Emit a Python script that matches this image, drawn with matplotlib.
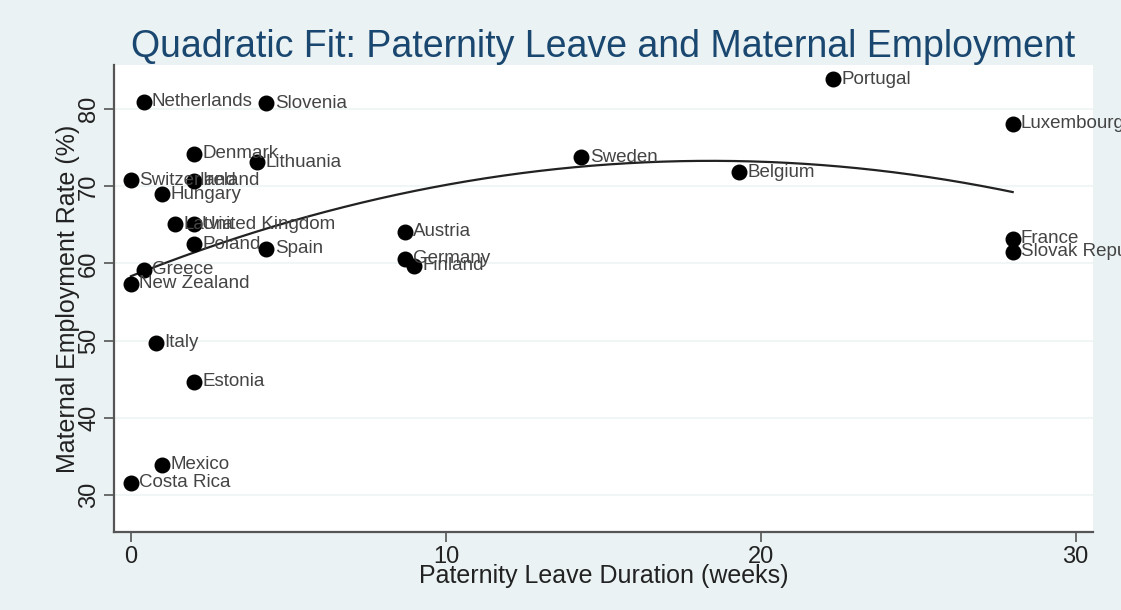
import numpy as np
import matplotlib
matplotlib.use("Agg")
import matplotlib.pyplot as plt

countries = ["Netherlands", "Slovenia", "Denmark", "Lithuania", "Switzerland", "Ireland",
             "Hungary", "Latvia", "United Kingdom", "Poland", "Spain", "Greece",
             "New Zealand", "Italy", "Estonia", "Mexico", "Costa Rica", "Austria",
             "Germany", "Finland", "Sweden", "Belgium", "Portugal", "Luxembourg",
             "France", "Slovak Republic"]
leave_weeks = [0.4, 4.3, 2.0, 4.0, 0.0, 2.0,
               1.0, 1.4, 2.0, 2.0, 4.3, 0.4,
               0.0, 0.8, 2.0, 1.0, 0.0, 8.7,
               8.7, 9.0, 14.3, 19.3, 22.3, 28.0,
               28.0, 28.0]
employment = [81.0, 80.8, 74.2, 73.1, 70.8, 70.7,
              69.0, 65.1, 65.1, 62.5, 61.9, 59.2,
              57.4, 49.7, 44.7, 33.9, 31.6, 64.1,
              60.6, 59.7, 73.8, 71.8, 83.9, 78.1,
              63.2, 61.5]

x_ticks = [0, 10, 20, 30]
y_ticks = [30, 40, 50, 60, 70, 80]

bg = "#eaf2f3"
plt.rcParams["font.family"] = ["Liberation Sans", "DejaVu Sans"]

fig = plt.figure(figsize=(11.21, 6.10), dpi=100, facecolor=bg)
ax = fig.add_axes([0.1017, 0.128, 0.873, 0.765])
ax.set_facecolor("white")

x = np.array(leave_weeks)
y = np.array(employment)

# quadratic fit over the data range
coef = np.polyfit(x, y, 2)
xs = np.linspace(x.min(), x.max(), 200)
ax.plot(xs, np.polyval(coef, xs), color="#222222", lw=1.6, zorder=2)

ax.scatter(x, y, s=110, color="black", zorder=3)
for name, xi, yi in zip(countries, x, y):
    ax.annotate(name, (xi, yi), xytext=(6, 0), textcoords="offset points",
                va="center", ha="left", fontsize=13.5, color="#444444",
                annotation_clip=False, clip_on=False)

ax.set_xlim(-0.54, 30.54)
ax.set_ylim(25.2, 85.7)
ax.set_xticks(x_ticks)
ax.set_yticks(y_ticks)
ax.set_yticklabels([str(t) for t in y_ticks], rotation=90, va="center")
ax.tick_params(labelsize=17, length=7, width=1.2, color="#555555", labelcolor="#222222", pad=3)
ax.yaxis.grid(True, color="#eef3f4", lw=1.2)
ax.set_axisbelow(True)
for side in ["top", "right"]:
    ax.spines[side].set_visible(False)
for side in ["left", "bottom"]:
    ax.spines[side].set_color("#555555")
    ax.spines[side].set_linewidth(1.6)

ax.set_xlabel("Paternity Leave Duration (weeks)", fontsize=18, color="#222222", labelpad=-3)
ax.set_ylabel("Maternal Employment Rate (%)", fontsize=18, color="#222222", labelpad=-1)
fig.text(0.538, 0.923, "Quadratic Fit: Paternity Leave and Maternal Employment",
         ha="center", va="center", fontsize=27, color="#1a476f")

fig.savefig("out.png", dpi=100, facecolor=bg)
